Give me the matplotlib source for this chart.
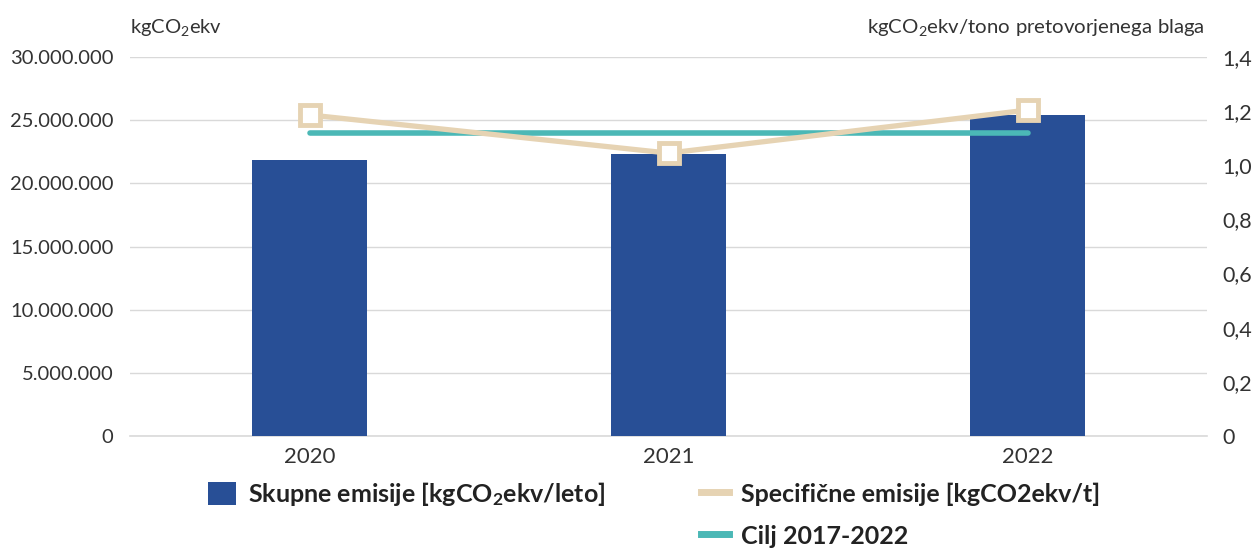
import matplotlib
matplotlib.use("Agg")
import matplotlib.pyplot as plt
from matplotlib.lines import Line2D
from matplotlib.patches import Patch
from matplotlib.ticker import FuncFormatter

# podatki
leta = ["2020", "2021", "2022"]
skupne_emisije = [21850000, 22320000, 25400000]      # kgCO2ekv/leto
specificne_emisije = [1.186, 1.045, 1.204]           # kgCO2ekv/t
cilj = [1.12, 1.12, 1.12]                            # cilj 2017-2022

plt.rcParams["font.family"] = ["Lato", "DejaVu Sans"]
plt.rcParams["mathtext.fontset"] = "custom"
plt.rcParams["mathtext.rm"] = "Lato"
plt.rcParams["mathtext.it"] = "Lato"
plt.rcParams["mathtext.bf"] = "Lato:bold"

barva_stolpci = "#284f96"
barva_spec = "#e6d3b3"
barva_cilj = "#4bb8b6"
barva_tekst = "#333333"

fig = plt.figure(figsize=(12.53, 5.48), dpi=100)
ax1 = fig.add_axes([130 / 1253, 1 - 436 / 548, (1207 - 130) / 1253, (436 - 57) / 548])
ax2 = ax1.twinx()

x = list(range(len(leta)))
ax1.bar(x, skupne_emisije, width=0.32, color=barva_stolpci, zorder=2)
ax1.set_ylim(0, 30000000)
ax1.set_yticks(range(0, 30000001, 5000000))
ax1.yaxis.set_major_formatter(FuncFormatter(lambda v, p: "{:,.0f}".format(v).replace(",", ".")))
ax1.set_xlim(-0.5, 2.5)
ax1.set_xticks(x)
ax1.set_xticklabels(leta)
ax1.grid(axis="y", color="#d9d9d9", linewidth=1, zorder=0)
ax1.axhline(0, color="#d9d9d9", linewidth=1.2, clip_on=False, zorder=1)
ax1.set_axisbelow(True)

ax2.plot(x, cilj, color=barva_cilj, linewidth=4, solid_capstyle="round", zorder=3)
ax2.plot(x, specificne_emisije, color=barva_spec, linewidth=3.8, marker="s", markersize=14,
         markerfacecolor="white", markeredgecolor=barva_spec, markeredgewidth=3.5, zorder=4)
ax2.set_ylim(0, 1.4)
ax2.set_yticks([0, 0.2, 0.4, 0.6, 0.8, 1.0, 1.2, 1.4])
ax2.yaxis.set_major_formatter(FuncFormatter(lambda v, p: "0" if v == 0 else "{:.1f}".format(v).replace(".", ",")))

for ax in (ax1, ax2):
    for s in ax.spines.values():
        s.set_visible(False)
    ax.tick_params(length=0, labelsize=14.5, colors=barva_tekst)
ax1.tick_params(axis="y", pad=12)
ax2.tick_params(axis="y", pad=11, labelsize=15.5)
ax1.tick_params(axis="x", pad=8, labelsize=16)

fig.text(130 / 1253, 1 - 27 / 548, r"$\mathregular{kgCO_2ekv}$", fontsize=14.5, color=barva_tekst,
         va="center", ha="left")
fig.text(1205 / 1253, 1 - 27 / 548, r"$\mathregular{kgCO_2ekv/tono\ pretovorjenega\ blaga}$",
         fontsize=14.7, color=barva_tekst, va="center", ha="right")

rocke = [
    Patch(facecolor=barva_stolpci),
    Line2D([], [], color="none"),
    Line2D([], [], color=barva_spec, linewidth=5),
    Line2D([], [], color=barva_cilj, linewidth=5),
]
oznake = [
    r"Skupne emisije [kgCO$_\mathbf{2}$ekv/leto]",
    "",
    "Specifične emisije [kgCO2ekv/t]",
    "Cilj 2017-2022",
]
leg = fig.legend(rocke, oznake, ncol=2, loc="upper left", bbox_to_anchor=(208 / 1253, 1 - 480 / 548),
                 frameon=False, borderpad=0, borderaxespad=0, handlelength=1.12, handleheight=1.05,
                 handletextpad=0.5, labelspacing=0.7, columnspacing=3.8,
                 prop={"weight": "bold", "size": 18})
for t in leg.get_texts():
    t.set_color("#222222")

fig.savefig("out.png", dpi=100)
